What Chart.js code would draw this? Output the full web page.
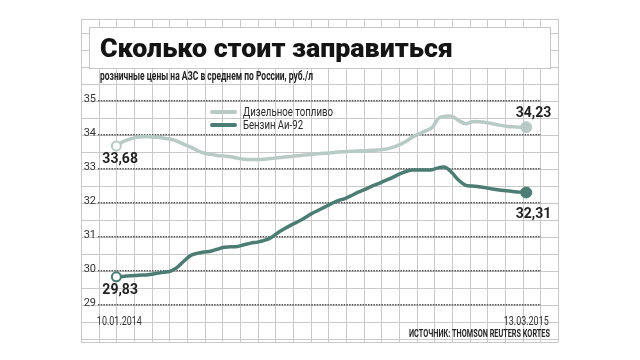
<!DOCTYPE html>
<html>
<head>
<meta charset="utf-8">
<script src="https://cdn.jsdelivr.net/npm/chart.js@4.4.1/dist/chart.umd.min.js"></script>
<style>
  html, body { margin: 0; padding: 0; background: #fff; }
  #wrap { position: relative; width: 640px; height: 360px; overflow: hidden; }
  canvas { position: absolute; left: 0; top: 0; }
  .txt { position: absolute; white-space: nowrap; line-height: 1; }
  #title { left: 100px; top: 33px; font: 900 25.5px Roboto, sans-serif; color: #141414; transform-origin: left top; }
  #subtitle { left: 100px; top: 68px; font: 700 12.5px Roboto, sans-serif; color: #222; transform-origin: left top; }
  #source { right: 90px; top: 327px; font: 700 10.5px Roboto, sans-serif; color: #262626; transform-origin: right top; }
</style>
</head>
<body>
<div id="wrap">
  <canvas id="c" width="640" height="360"></canvas>
  <div class="txt" id="title">Сколько стоит заправиться</div>
  <div class="txt" id="subtitle">розничные цены на АЗС в среднем по России, руб./л</div>
  <div class="txt" id="source">ИСТОЧНИК: THOMSON REUTERS KORTES</div>
</div>
<script>
// ---- data (weekly, 10.01.2014 … 13.03.2015) ----
const seriesNames = ['Дизельное топливо', 'Бензин Аи-92'];
const diesel = [33.68,33.80,33.88,33.93,33.95,33.95,33.93,33.91,33.88,33.82,33.73,33.65,33.55,33.47,33.43,33.40,33.38,33.36,33.32,33.29,33.28,33.28,33.29,33.31,33.33,33.35,33.37,33.39,33.41,33.43,33.45,33.46,33.48,33.50,33.51,33.52,33.53,33.54,33.55,33.56,33.58,33.63,33.70,33.80,33.93,34.03,34.12,34.22,34.50,34.55,34.55,34.42,34.33,34.39,34.39,34.37,34.33,34.29,34.26,34.24,34.23,34.23];
const petrol = [29.83,29.84,29.86,29.87,29.88,29.90,29.93,29.96,29.99,30.10,30.28,30.45,30.52,30.56,30.58,30.64,30.70,30.71,30.72,30.77,30.82,30.85,30.90,30.98,31.12,31.24,31.35,31.45,31.56,31.68,31.78,31.88,31.98,32.07,32.13,32.22,32.32,32.40,32.49,32.57,32.66,32.74,32.84,32.92,32.97,32.97,32.97,32.98,33.04,33.05,32.88,32.66,32.52,32.50,32.48,32.45,32.41,32.38,32.36,32.34,32.32,32.31];
const startLabels = ['33,68', '29,83'];
const endLabels = ['34,23', '32,31'];
const xTickWeeks = [0, 61];
const xTickLabels = ['10.01.2014', '13.03.2015'];
const yTicks = [29, 30, 31, 32, 33, 34, 35];

const colors = ['#b8cac5', '#4b7d73'];

// fit HTML texts to measured widths
function fit(id, w) {
  const el = document.getElementById(id);
  const cw = el.getBoundingClientRect().width;
  el.style.transform = 'scaleX(' + (w / cw) + ')';
}
fit('title', 353);
fit('subtitle', 213);
fit('source', 141);

function scaledText(ctx, text, x, y, width, align) {
  const m = ctx.measureText(text).width;
  ctx.save();
  ctx.translate(x, y);
  ctx.scale(width / m, 1);
  ctx.textAlign = align;
  ctx.fillText(text, 0, 0);
  ctx.restore();
}

const paper = {
  id: 'paper',
  beforeDraw(chart) {
    const ctx = chart.ctx;
    const ys = chart.scales.y;
    ctx.save();
    ctx.fillStyle = '#fff';
    ctx.fillRect(0, 0, chart.width, chart.height);
    const x0 = 81, x1 = 558, y0 = 19, y1 = 342, step = (x1 - x0) / 27;
    ctx.strokeStyle = '#c9c9c9';
    ctx.lineWidth = 1;
    ctx.beginPath();
    for (let k = 0; k <= 27; k++) {
      const x = Math.round(x0 + k * step) + 0.5;
      ctx.moveTo(x, y0); ctx.lineTo(x, y1);
    }
    for (let v = 28; v <= 38; v += 0.5) {
      const y = Math.round(ys.getPixelForValue(v)) + 0.5;
      if (y > y0 && y < y1) { ctx.moveTo(x0, y); ctx.lineTo(x1, y); }
    }
    ctx.moveTo(x0, y0 + 0.5); ctx.lineTo(x1, y0 + 0.5);
    ctx.moveTo(x0, y1 + 0.5); ctx.lineTo(x1, y1 + 0.5);
    ctx.stroke();
    // title box
    ctx.fillStyle = '#fff';
    ctx.fillRect(89, 27, 461, 41);
    ctx.strokeStyle = '#c6c6c6';
    ctx.strokeRect(89.5, 27.5, 461, 41);
    ctx.restore();
  },
  afterDatasetsDraw(chart) {
    const ctx = chart.ctx;
    const xs = chart.scales.x, ys = chart.scales.y;
    ctx.save();
    // x tick labels (condensed)
    ctx.font = '12px Roboto, sans-serif';
    ctx.fillStyle = '#333';
    ctx.textBaseline = 'middle';
    xTickWeeks.forEach((w, i) => {
      scaledText(ctx, xTickLabels[i], xs.getPixelForValue(w) + (i === 0 ? 3 : 0), 321.5, 45, 'center');
    });
    // legend
    const lx = 210, lw = 27, ly = [112, 125], tw = [90, 60];
    chart.data.datasets.forEach((ds, i) => {
      ctx.strokeStyle = ds.borderColor;
      ctx.lineWidth = 4;
      ctx.lineCap = 'round';
      ctx.beginPath();
      ctx.moveTo(lx + 2, ly[i]); ctx.lineTo(lx + lw - 2, ly[i]);
      ctx.stroke();
      ctx.font = '12.5px Roboto, sans-serif';
      ctx.fillStyle = '#2a2a2a';
      ctx.textBaseline = 'middle';
      scaledText(ctx, ds.label, lx + 33, ly[i] + 0.5, tw[i], 'left');
    });
    // value labels
    ctx.font = 'bold 14px Roboto, sans-serif';
    ctx.fillStyle = '#222';
    ctx.textBaseline = 'middle';
    const sets = [diesel, petrol];
    const endOffsets = [-14, 22];
    sets.forEach((arr, i) => {
      const px0 = xs.getPixelForValue(0), py0 = ys.getPixelForValue(arr[0]);
      ctx.textAlign = 'left';
      ctx.fillText(startLabels[i], px0 - 14, py0 + 14);
      const n = arr.length - 1;
      const px1 = xs.getPixelForValue(n), py1 = ys.getPixelForValue(arr[n]);
      ctx.textAlign = 'right';
      ctx.fillText(endLabels[i], px1 + 25, py1 + endOffsets[i]);
    });
    ctx.restore();
  }
};

const mkData = arr => arr.map((v, i) => ({ x: i, y: v }));
const lastIdx = diesel.length - 1;

new Chart(document.getElementById('c'), {
  type: 'line',
  data: {
    datasets: [diesel, petrol].map((arr, i) => ({
      label: seriesNames[i],
      data: mkData(arr),
      borderColor: colors[i],
      borderWidth: 3.5,
      tension: 0.3,
      fill: false,
      clip: false,
      pointRadius: c => (c.dataIndex === 0 ? 4.5 : (c.dataIndex === lastIdx ? 5.5 : 0)),
      pointBackgroundColor: c => (c.dataIndex === 0 ? '#fff' : colors[i]),
      pointBorderColor: colors[i],
      pointBorderWidth: c => (c.dataIndex === 0 ? 2 : 1),
    }))
  },
  options: {
    responsive: false,
    animation: false,
    events: [],
    layout: { padding: { left: 0, right: 99, top: 101, bottom: 0 } },
    plugins: { legend: { display: false }, tooltip: { enabled: false } },
    scales: {
      x: {
        type: 'linear',
        min: -2.73,
        max: 63.2,
        grid: { display: false, drawTicks: false, tickLength: 0 },
        border: { display: false },
        afterBuildTicks: axis => { axis.ticks = xTickWeeks.map(v => ({ value: v })); },
        afterFit: axis => { axis.height = 55; },
        ticks: { display: false }
      },
      y: {
        type: 'linear',
        min: 29, max: 35,
        afterBuildTicks: axis => { axis.ticks = yTicks.map(v => ({ value: v })); },
        afterFit: axis => { axis.width = 98; },
        grid: { display: true, drawOnChartArea: true, color: '#555', lineWidth: 1.4, drawTicks: false, tickLength: 0 },
        border: { display: false, dash: [1.5, 1.2] },
        ticks: {
          padding: 2, labelOffset: -2, color: '#333',
          font: { family: 'Roboto, sans-serif', size: 11 },
          callback: v => String(v)
        }
      }
    }
  },
  plugins: [paper]
});
</script>
</body>
</html>
